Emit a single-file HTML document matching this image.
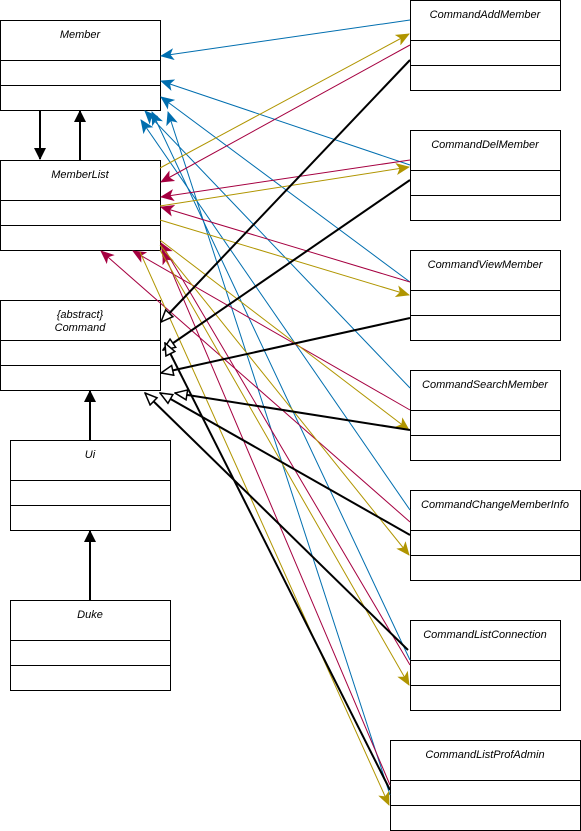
<!DOCTYPE html>
<html><head><style>
body{margin:0;background:#fff;}
svg{display:block;}
text{font-family:"Liberation Sans",sans-serif;font-size:11px;font-style:italic;fill:#000;}
</style></head><body>
<svg width="581" height="831" viewBox="0 0 581 831" xmlns="http://www.w3.org/2000/svg">
<defs>
<marker id="b" markerWidth="14" markerHeight="12" refX="13" refY="6" orient="auto" markerUnits="userSpaceOnUse"><path d="M0,0 L14,6 L0,12 L3.5,6z" fill="#006EAF"/></marker>
<marker id="r" markerWidth="14" markerHeight="12" refX="13" refY="6" orient="auto" markerUnits="userSpaceOnUse"><path d="M0,0 L14,6 L0,12 L3.5,6z" fill="#A50040"/></marker>
<marker id="y" markerWidth="14" markerHeight="12" refX="13" refY="6" orient="auto" markerUnits="userSpaceOnUse"><path d="M0,0 L14,6 L0,12 L3.5,6z" fill="#B09500"/></marker>
<marker id="k" markerWidth="14" markerHeight="12" refX="13" refY="6" orient="auto" markerUnits="userSpaceOnUse"><path d="M1,1 L13,6 L1,11z" fill="#fff" stroke="#000" stroke-width="1.5"/></marker>
<marker id="kf" markerWidth="12" markerHeight="12" refX="11" refY="6" orient="auto" markerUnits="userSpaceOnUse"><path d="M0,0 L12,6 L0,12z" fill="#000"/></marker>
</defs>
<g fill="#fff" stroke="#000" stroke-width="1">
<rect x="0.5" y="20.5" width="160" height="90"/><line x1="0" y1="60.5" x2="160" y2="60.5"/><line x1="0" y1="85.5" x2="160" y2="85.5"/>
<rect x="0.5" y="160.5" width="160" height="90"/><line x1="0" y1="200.5" x2="160" y2="200.5"/><line x1="0" y1="225.5" x2="160" y2="225.5"/>
<rect x="0.5" y="300.5" width="160" height="90"/><line x1="0" y1="340.5" x2="160" y2="340.5"/><line x1="0" y1="365.5" x2="160" y2="365.5"/>
<rect x="10.5" y="440.5" width="160" height="90"/><line x1="10" y1="480.5" x2="170" y2="480.5"/><line x1="10" y1="505.5" x2="170" y2="505.5"/>
<rect x="10.5" y="600.5" width="160" height="90"/><line x1="10" y1="640.5" x2="170" y2="640.5"/><line x1="10" y1="665.5" x2="170" y2="665.5"/>
<rect x="410.5" y="0.5" width="150" height="90"/><line x1="410" y1="40.5" x2="560" y2="40.5"/><line x1="410" y1="65.5" x2="560" y2="65.5"/>
<rect x="410.5" y="130.5" width="150" height="90"/><line x1="410" y1="170.5" x2="560" y2="170.5"/><line x1="410" y1="195.5" x2="560" y2="195.5"/>
<rect x="410.5" y="250.5" width="150" height="90"/><line x1="410" y1="290.5" x2="560" y2="290.5"/><line x1="410" y1="315.5" x2="560" y2="315.5"/>
<rect x="410.5" y="370.5" width="150" height="90"/><line x1="410" y1="410.5" x2="560" y2="410.5"/><line x1="410" y1="435.5" x2="560" y2="435.5"/>
<rect x="410.5" y="490.5" width="170" height="90"/><line x1="410" y1="530.5" x2="580" y2="530.5"/><line x1="410" y1="555.5" x2="580" y2="555.5"/>
<rect x="410.5" y="620.5" width="150" height="90"/><line x1="410" y1="660.5" x2="560" y2="660.5"/><line x1="410" y1="685.5" x2="560" y2="685.5"/>
<rect x="390.5" y="740.5" width="190" height="90"/><line x1="390" y1="780.5" x2="580" y2="780.5"/><line x1="390" y1="805.5" x2="580" y2="805.5"/>
</g>
<g text-anchor="middle">
<text x="80" y="38">Member</text>
<text x="80" y="178">MemberList</text>
<text x="80" y="318">{abstract}</text><text x="80" y="331">Command</text>
<text x="90" y="458">Ui</text>
<text x="90" y="618">Duke</text>
<text x="485" y="18">CommandAddMember</text>
<text x="485" y="148">CommandDelMember</text>
<text x="485" y="268">CommandViewMember</text>
<text x="485" y="388">CommandSearchMember</text>
<text x="495" y="508">CommandChangeMemberInfo</text>
<text x="485" y="638">CommandListConnection</text>
<text x="485" y="758">CommandListProfAdmin</text>
</g>
<g fill="none" stroke="#006EAF" stroke-width="1" marker-end="url(#b)">
<line x1="410" y1="20" x2="161" y2="56"/>
<line x1="410" y1="165" x2="161" y2="81"/>
<line x1="410" y1="282" x2="161" y2="97"/>
<line x1="410" y1="388" x2="145" y2="111"/>
<line x1="410" y1="510" x2="141" y2="120"/>
<line x1="410" y1="660" x2="152" y2="112"/>
<line x1="390" y1="795" x2="168" y2="112"/>
</g>
<g fill="none" stroke="#A50040" stroke-width="1" marker-end="url(#r)">
<line x1="410" y1="45" x2="161" y2="182"/>
<line x1="410" y1="160" x2="161" y2="197"/>
<line x1="410" y1="282" x2="161" y2="207"/>
<line x1="410" y1="410" x2="133" y2="251"/>
<line x1="410" y1="522" x2="101" y2="251"/>
<line x1="410" y1="665" x2="161" y2="243"/>
<line x1="390" y1="785" x2="163" y2="251"/>
</g>
<g fill="none" stroke="#B09500" stroke-width="1" marker-end="url(#y)">
<line x1="160" y1="168" x2="409" y2="34"/>
<line x1="160" y1="206" x2="409" y2="167"/>
<line x1="160" y1="220" x2="409" y2="295"/>
<line x1="160" y1="240" x2="409" y2="430"/>
<line x1="160" y1="245" x2="409" y2="555"/>
<line x1="160" y1="250" x2="409" y2="685"/>
<line x1="140" y1="252" x2="389" y2="805"/>
</g>
<g fill="none" stroke="#000" stroke-width="2" marker-end="url(#k)">
<line x1="410" y1="60" x2="161" y2="322"/>
<line x1="410" y1="180" x2="163" y2="350"/>
<line x1="410" y1="318" x2="161" y2="373"/>
<line x1="410" y1="430" x2="175" y2="393"/>
<line x1="410" y1="535" x2="160" y2="393"/>
<line x1="408" y1="650" x2="145" y2="393"/>
<line x1="390" y1="790" x2="165" y2="343"/>
</g>
<g stroke="#000" stroke-width="2" marker-end="url(#kf)">
<line x1="40" y1="110" x2="40" y2="159"/>
<line x1="80" y1="160" x2="80" y2="111"/>
<line x1="90" y1="440" x2="90" y2="391"/>
<line x1="90" y1="600" x2="90" y2="531"/>
</g>
</svg>
</body></html>
